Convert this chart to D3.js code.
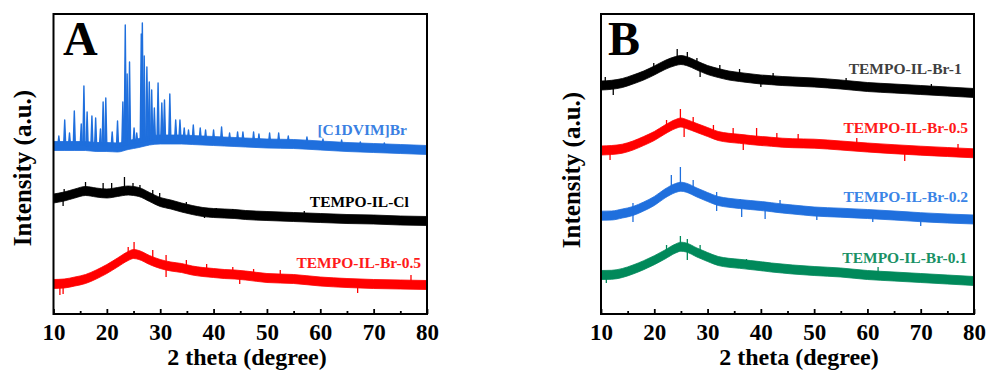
<!DOCTYPE html>
<html><head><meta charset="utf-8">
<script src="https://cdn.jsdelivr.net/npm/d3@7"></script>
<style>
body{margin:0;background:#fff}
svg{display:block}
text{font-family:"Liberation Serif","Times New Roman",serif;font-weight:bold}
</style>
</head><body>
<svg id="chart" width="988" height="374"></svg>
<script>
// ---------- data (2 theta in degrees, intensity in a.u.) ----------
const xTicks = [10, 20, 30, 40, 50, 60, 70, 80];
const xMinorTicks = [15, 25, 35, 45, 55, 65, 75];
const thetaGrid = [10, 12, 14, 16, 18, 20, 22, 24, 25, 26, 28, 30, 32, 34, 36, 38, 40, 42, 44, 46, 50, 55, 60, 65, 70, 75, 80];

// Panel A
const aIonicBase = [168, 168, 168, 168, 167, 167, 166.5, 169, 170, 171, 173.5, 174.5, 174.5, 174.5, 174, 173.5, 173, 172.5, 172, 171.5, 170.5, 170, 168.5, 167, 166, 165, 164];
const aIonicPeaks = [[11.0,178],[12.1,194],[13.0,181],[13.9,203],[15.2,190],[15.7,228],[16.3,202],[17.2,198],[17.9,196],[18.8,185],[19.3,212],[19.8,216],[21.0,182],[22.0,193],[23.0,212],[23.45,289],[23.8,240],[24.25,252],[25.1,186],[25.6,181],[26.45,280],[26.65,291],[27.0,258],[27.5,247],[27.95,232],[28.4,224],[28.9,206],[29.6,231],[30.3,211],[30.8,214],[31.8,220],[32.9,194],[33.7,194],[34.5,186],[35.3,184],[36.2,189],[37.5,186],[38.5,184],[40.0,184],[41.5,187],[43.0,181],[44.5,182],[45.5,182],[47.5,182],[48.5,180],[50.5,181],[52.2,181],[54.0,178],[57.5,177],[60.5,175],[64.0,174],[67.5,172],[72.0,171]];
const aTempoCl = [115.5, 117.5, 120.5, 123, 121.5, 120.5, 122, 123.5, 123, 122, 117, 112, 109.5, 106.5, 104, 102, 101, 100.5, 100, 99, 98, 97, 96, 95, 94.5, 93.5, 93];
const aTempoClSpikes = [[11.8,108],[12.0,125],[16.0,132],[19.3,131],[20.9,131],[23.3,137],[24.9,131],[26.2,129],[28.6,124],[29.9,121],[29.9,108],[34.9,112],[38.3,96],[40.5,106],[43.6,105],[57.0,103]];
const aTempoBr05 = [30, 30.5, 32.5, 35, 39.5, 45, 51.5, 58, 60, 59, 54, 50, 47.5, 46, 43.5, 42, 41, 40, 39.5, 38.5, 36, 35, 32.5, 31, 30, 29.5, 29];
const aTempoBr05Spikes = [[11.2,19],[11.8,20],[24.0,67],[25.1,72],[28.6,64],[31.1,59],[31.1,37],[34.9,54],[38.7,50],[43.6,47],[44.9,30],[47.5,45],[52.5,44],[67.0,21],[77.0,39]];

// Panel B
const bBr1 = [228.5, 229.2, 231, 234.5, 238.5, 243.5, 249, 253, 254, 253, 248.5, 244, 241, 238.5, 237, 235.7, 234.5, 233.8, 233, 232.5, 231.5, 229.5, 227, 225.5, 224, 222.5, 221];
const bBr1Spikes = [[10.8,237],[12.3,219],[19.9,251],[24.3,265],[26.2,262],[28.0,256],[28.6,237],[32.3,249],[36.0,245],[40.0,227],[42.3,241],[56.0,236],[72.0,230]];
const bBr05 = [163.5, 164, 165.3, 168.5, 173, 178, 184.5, 190, 191.5, 190, 186, 182, 178, 176.2, 175.2, 174, 173, 172.2, 171.3, 170.8, 170.3, 168.5, 166.5, 164.8, 163.3, 162, 160.7];
const bBr05Spikes = [[11.7,154],[22.3,194],[24.9,205],[25.6,177],[27.3,197],[31.1,189],[34.8,186],[36.7,164],[39.2,186],[43.0,181],[47.0,180],[58.0,176],[67.0,153],[77.0,170]];
const bBr02 = [98.3, 98.5, 100.5, 103, 107.5, 113, 120.5, 126, 127.3, 126.3, 121.5, 117, 113, 111.2, 110, 109, 108, 106.8, 105.5, 104.5, 102.5, 101.3, 100, 98.5, 96.8, 95.5, 94.5];
const bBr02Spikes = [[16.0,111],[16.0,92],[23.2,139],[24.9,147],[27.3,134],[31.7,122],[31.7,103],[36.1,115],[36.4,97],[40.8,95],[43.6,114],[50.5,94],[61.0,92],[70.0,88]];
const bBr01 = [39, 39.2, 41, 44.5, 48.8, 53.8, 59.5, 65.5, 67.3, 66.5, 61.5, 57, 53, 51.2, 50.2, 49, 47.8, 46.5, 45.5, 44.5, 43, 41.5, 39, 37.5, 36, 34.5, 33];
const bBr01Spikes = [[11.0,31],[15.0,47],[22.3,69],[24.9,78],[26.2,75],[26.2,54],[28.6,69],[37.3,55],[62.0,47]];

const noiseHalfWidth = 4.5;

// ---------- layout ----------
const svg = d3.select("#chart");
svg.append("rect").attr("width", 988).attr("height", 374).attr("fill", "#fff");

const panels = [
  { left: 53.5, right: 427, top: 14, bottom: 314, letter: "A", letterX: 63, yTitleX: 31, yTitleY: 168, xTitleX: 247 },
  { left: 601, right: 974, top: 14, bottom: 314, letter: "B", letterX: 608, yTitleX: 580, yTitleY: 170, xTitleX: 799 }
];

function buildPanel(p) {
  const x = d3.scaleLinear().domain([10, 80]).range([p.left, p.right]);
  const y = d3.scaleLinear().domain([0, 300]).range([p.bottom, p.top]);
  const g = svg.append("g");

  const axis = g.append("g").attr("transform", `translate(0,${p.bottom})`)
    .call(d3.axisBottom(x).tickValues(xTicks).tickSize(-5).tickPadding(10).tickFormat(d3.format("d")));
  axis.attr("font-family", null).attr("font-size", null);
  axis.select(".domain").remove();
  axis.selectAll("line").attr("stroke", "#000").attr("stroke-width", 1.8);
  axis.selectAll("text").attr("fill", "#000").style("font-size", "23px")
    .style("font-family", "'Liberation Serif','Times New Roman',serif").style("font-weight", "bold");
  const minor = g.append("g").attr("transform", `translate(0,${p.bottom})`)
    .call(d3.axisBottom(x).tickValues(xMinorTicks).tickSize(-3).tickFormat(""));
  minor.select(".domain").remove();
  minor.selectAll("line").attr("stroke", "#000").attr("stroke-width", 1.8);

  g.append("text").attr("x", p.letterX).attr("y", 55).attr("font-size", 48).attr("fill", "#000").text(p.letter);
  g.append("text").attr("transform", `translate(${p.yTitleX},${p.yTitleY}) rotate(-90)`)
    .attr("text-anchor", "middle").attr("font-size", 25).attr("fill", "#000").text("Intensity (a.u.)");
  g.append("text").attr("x", p.xTitleX).attr("y", 365).attr("text-anchor", "middle")
    .attr("font-size", 24).attr("fill", "#000").text("2 theta (degree)");

  return { x, y, g };
}

function drawBand(P, values, spikes, color) {
  const area = d3.area().curve(d3.curveMonotoneX)
    .x((d, i) => P.x(thetaGrid[i]))
    .y0(d => P.y(d - noiseHalfWidth))
    .y1(d => P.y(d + noiseHalfWidth));
  P.g.append("path").datum(values).attr("d", area).attr("fill", color).attr("stroke", color).attr("stroke-width", 0.8);
  const centre = d3.scaleLinear().domain(thetaGrid).range(values);
  P.g.selectAll(null).data(spikes).join("line")
    .attr("x1", d => P.x(d[0])).attr("x2", d => P.x(d[0]))
    .attr("y1", d => P.y(centre(d[0]))).attr("y2", d => P.y(d[1]))
    .attr("stroke", color).attr("stroke-width", 1.3);
}

function drawPeaks(P, base, peaks, color) {
  const centre = d3.scaleLinear().domain(thetaGrid).range(base);
  const line = d3.line().x(d => P.x(d[0])).y(d => P.y(d[1]));
  P.g.selectAll(null).data(peaks).join("path")
    .attr("d", d => line([[d[0] - 0.2, centre(d[0])], [d[0], d[1]], [d[0] + 0.2, centre(d[0])]]))
    .attr("fill", color).attr("stroke", color).attr("stroke-width", 1.4).attr("stroke-linejoin", "round");
}

function label(P, xv, yv, txt, color) {
  P.g.append("text").attr("x", P.x(xv)).attr("y", P.y(yv)).attr("text-anchor", "end")
    .attr("font-size", 15.5).attr("fill", color).text(txt);
}

const BLUE = "#1f6fdd", RED = "#ff0000", GREEN = "#00895a", BLACK = "#000000";

// Panel A
const A = buildPanel(panels[0]);
drawBand(A, aIonicBase, [], BLUE);
drawPeaks(A, aIonicBase, aIonicPeaks, BLUE);
drawBand(A, aTempoCl, aTempoClSpikes, BLACK);
drawBand(A, aTempoBr05, aTempoBr05Spikes, RED);
label(A, 76.25, 179, "[C1DVIM]Br", "#3a80e2");
label(A, 76.6, 107, "TEMPO-IL-Cl", "#000");
label(A, 78.9, 46, "TEMPO-IL-Br-0.5", "#ff1a1a");

// Panel B
const B = buildPanel(panels[1]);
drawBand(B, bBr1, bBr1Spikes, BLACK);
drawBand(B, bBr05, bBr05Spikes, RED);
drawBand(B, bBr02, bBr02Spikes, BLUE);
drawBand(B, bBr01, bBr01Spikes, GREEN);
label(B, 77.7, 240, "TEMPO-IL-Br-1", "#404040");
label(B, 78.9, 181, "TEMPO-IL-Br-0.5", "#ff1a1a");
label(B, 78.9, 112, "TEMPO-IL-Br-0.2", "#3a84e6");
label(B, 78.7, 51, "TEMPO-IL-Br-0.1", "#1a9165");

// frames on top
panels.forEach(p => {
  svg.append("rect").attr("x", p.left).attr("y", p.top).attr("width", p.right - p.left).attr("height", p.bottom - p.top)
    .attr("fill", "none").attr("stroke", "#000").attr("stroke-width", 2);
});
</script>
</body></html>
